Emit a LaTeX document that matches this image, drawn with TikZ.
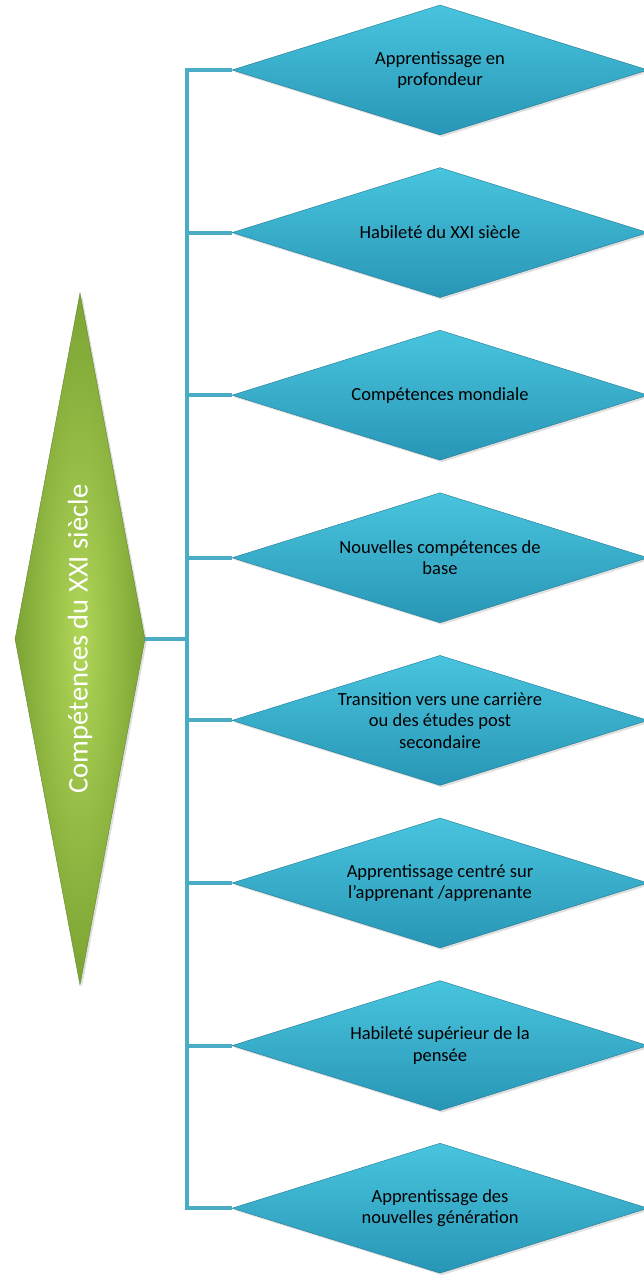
\documentclass[tikz,border=0pt]{standalone}
\usepackage{fontspec}
\setmainfont{Carlito}
\usetikzlibrary{shapes.geometric, shadows}
\definecolor{linkc}{RGB}{75,172,198}
\definecolor{bluec1}{RGB}{72,196,222}
\definecolor{bluec2}{RGB}{40,150,182}
\definecolor{greenc1}{RGB}{176,214,88}
\definecolor{greenc2}{RGB}{124,164,52}
\tikzset{
	corebox/.style={diamond, shape aspect=5.3, inner sep=0pt, minimum width=692, minimum height=130,
		inner color=greenc1, outer color=greenc2, draw=greenc2!80!black, line width=0.4pt,
		text=white, font=\fontsize{28.5}{32}\selectfont,
		drop shadow={shadow xshift=2pt, shadow yshift=-2pt, opacity=0.25}},
	skillbox/.style={diamond, shape aspect=3.2, inner sep=0pt, minimum width=416, minimum height=130,
		top color=bluec1, bottom color=bluec2, draw=bluec2!80!black, line width=0.4pt,
		align=center, font=\fontsize{18.5}{21.5}\selectfont,
		drop shadow={shadow xshift=2pt, shadow yshift=-2pt, opacity=0.25}},
	link/.style={draw=linkc, line width=4pt}
}
\begin{document}
\begin{tikzpicture}[x=1pt, y=1pt]
	\useasboundingbox (0,0) rectangle (643,1275);
	
	\node[corebox, rotate=90] (core) at (80,636) {Compétences du XXI siècle};
	\coordinate (trunk) at (187,636);
	
	\node[skillbox] (s1) at (440,1205.0) {Apprentissage en\\profondeur};
	\node[skillbox] (s2) at (440,1042.4) {Habileté du XXI siècle};
	\node[skillbox] (s3) at (440,879.8) {Compétences mondiale};
	\node[skillbox] (s4) at (440,717.2) {Nouvelles compétences de\\base};
	\node[skillbox] (s5) at (440,554.6) {Transition vers une carrière\\ou des études post\\secondaire};
	\node[skillbox] (s6) at (440,392.0) {Apprentissage centré sur\\l’apprenant /apprenante};
	\node[skillbox] (s7) at (440,229.4) {Habileté supérieur de la\\pensée};
	\node[skillbox] (s8) at (440,66.8) {Apprentissage des\\nouvelles génération};
	
	\draw[link] (core.south) -- (trunk);
	\foreach \i in {1,...,8}
		\draw[link] (trunk) |- (s\i.west);
\end{tikzpicture}
\end{document}
